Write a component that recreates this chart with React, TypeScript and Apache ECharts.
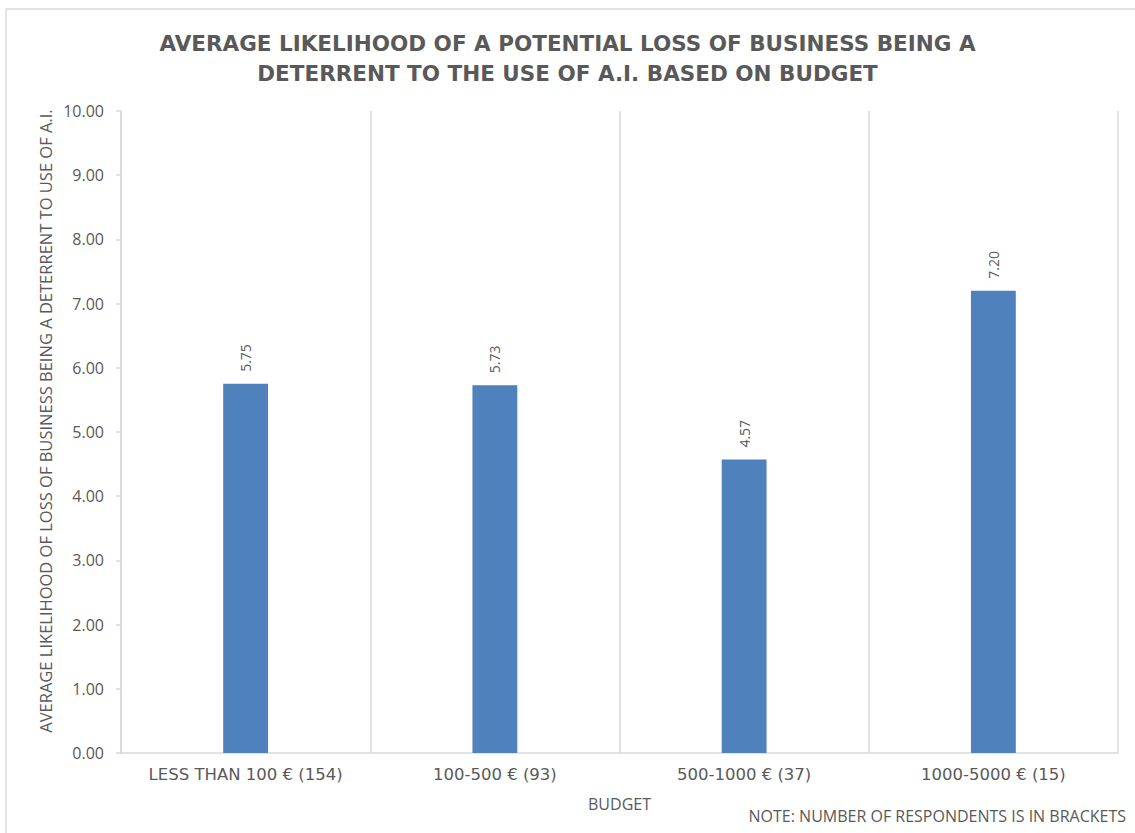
import React, { useEffect, useRef } from "react";
import * as echarts from "echarts";

const titleLines = [
  "AVERAGE LIKELIHOOD OF A POTENTIAL LOSS OF BUSINESS BEING A",
  "DETERRENT TO THE USE OF A.I. BASED ON BUDGET",
];
const categories = [
  "LESS THAN 100 € (154)",
  "100-500 € (93)",
  "500-1000 € (37)",
  "1000-5000 € (15)",
];
const values = [5.75, 5.73, 4.57, 7.2];
const yAxisName = "AVERAGE LIKELIHOOD OF LOSS OF BUSINESS BEING A DETERRENT TO USE OF A.I.";
const xAxisName = "BUDGET";
const note = "NOTE: NUMBER OF RESPONDENTS IS IN BRACKETS";

const TEXT = "#595959";
const GRID = "#d9d9d9";
const FONT = "'Open Sans', 'Noto Sans', sans-serif";
const WIDE = "'DejaVu Sans', sans-serif";

export default function App() {
  const ref = useRef<HTMLDivElement>(null);
  useEffect(() => {
    const chart = echarts.init(ref.current!, null, { renderer: "svg" });
    chart.setOption({
      animation: false,
      backgroundColor: "#ffffff",
      textStyle: { fontFamily: FONT },
      title: {
        text: titleLines.join("\n"),
        left: "center",
        top: 23,
        textStyle: {
          fontFamily: WIDE,
          fontSize: 21.5,
          fontWeight: "bold",
          color: TEXT,
          lineHeight: 30,
        },
      },
      grid: { left: 121, right: 17, top: 111, bottom: 80 },
      xAxis: {
        type: "category",
        data: categories,
        boundaryGap: true,
        name: xAxisName,
        nameLocation: "middle",
        nameGap: 43,
        nameTextStyle: { color: TEXT, fontSize: 16, fontFamily: FONT },
        axisLine: { show: true, lineStyle: { color: GRID, width: 1.5 } },
        axisTick: { show: false },
        axisLabel: {
          color: TEXT,
          fontSize: 16.5,
          margin: 13,
          interval: 0,
          hideOverlap: false,
          fontFamily: WIDE,
        },
        splitLine: { show: true, interval: 0, lineStyle: { color: GRID, width: 1.5 } },
      },
      yAxis: {
        type: "value",
        min: 0,
        max: 10,
        interval: 1,
        axisLine: { show: true, lineStyle: { color: GRID, width: 1.5 } },
        axisTick: { show: true, length: 5, lineStyle: { color: GRID, width: 1.5 } },
        axisLabel: {
          color: TEXT,
          fontSize: 16,
          margin: 17,
          fontFamily: FONT,
          formatter: (v: number) => v.toFixed(2),
        },
        splitLine: { show: false },
      },
      series: [
        {
          type: "bar",
          data: values,
          barWidth: "18%",
          itemStyle: { color: "#4f81bd" },
          label: {
            show: true,
            position: "top",
            rotate: 90,
            align: "left",
            verticalAlign: "middle",
            distance: 12,
            color: TEXT,
            fontSize: 14,
            fontFamily: FONT,
            formatter: (p: any) => Number(p.value).toFixed(2),
          },
        },
      ],
      graphic: [
        {
          type: "rect",
          shape: { x: 6, y: 9, width: 1150, height: 850 },
          style: { fill: "none", stroke: GRID, lineWidth: 1.5 },
          silent: true,
        },
        {
          type: "text",
          x: 45,
          y: 421,
          rotation: Math.PI / 2,
          style: {
            text: yAxisName,
            fill: TEXT,
            fontSize: 16.5,
            fontFamily: FONT,
            align: "center",
            verticalAlign: "middle",
          },
        },
        {
          type: "text",
          right: 9,
          top: 808,
          style: { text: note, fill: TEXT, fontSize: 16, fontFamily: FONT },
        },
      ],
    });
    return () => chart.dispose();
  }, []);
  return (
    <div
      ref={ref}
      style={{ position: "fixed", left: 0, top: 0, width: 1135, height: 833 }}
    />
  );
}
